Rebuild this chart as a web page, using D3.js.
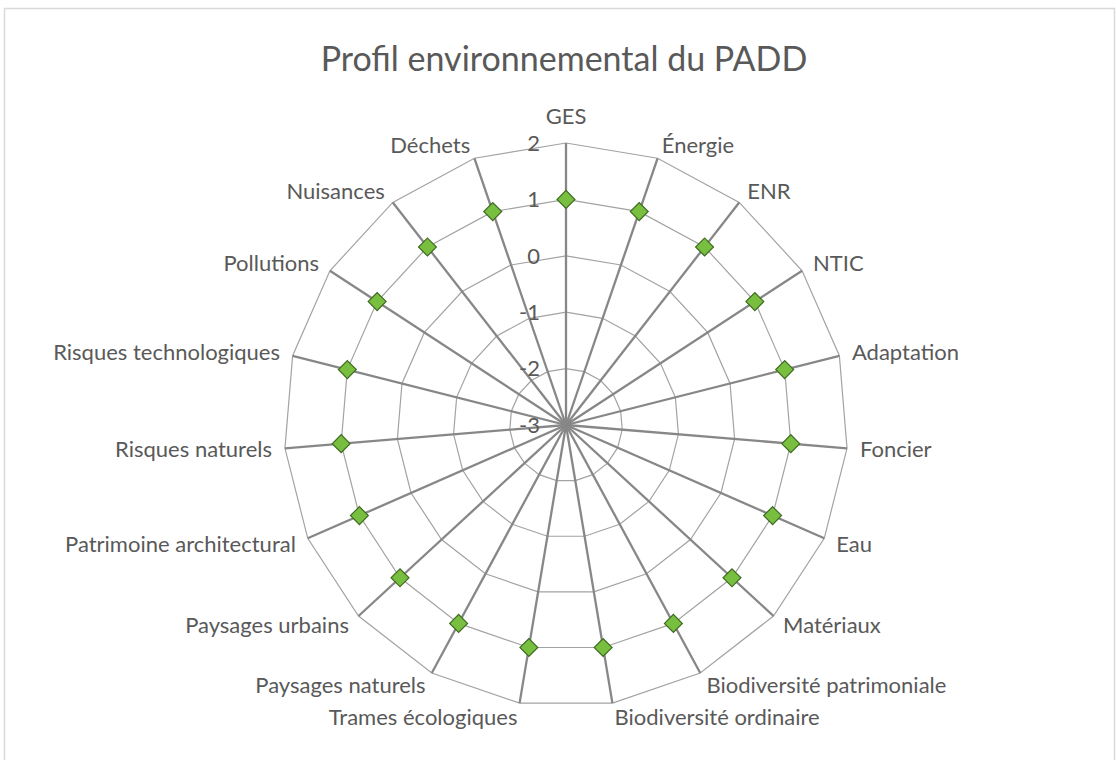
<!DOCTYPE html>
<html><head><meta charset="utf-8">
<script src="https://cdn.jsdelivr.net/npm/d3@7"></script>
<style>html,body{margin:0;padding:0;background:#fff;}</style>
</head><body>
<svg id="chart" width="1116" height="760"></svg>
<script>
const title = "Profil environnemental du PADD";
const categories = ["GES","Énergie","ENR","NTIC","Adaptation","Foncier","Eau","Matériaux",
  "Biodiversité patrimoniale","Biodiversité ordinaire","Trames écologiques","Paysages naturels",
  "Paysages urbains","Patrimoine architectural","Risques naturels","Risques technologiques",
  "Pollutions","Nuisances","Déchets"];
const values = [1,1,1,1,1,1,1,1,1,1,1,1,1,1,1,1,1,1,1];
const tickValues = [-3,-2,-1,0,1,2];

const svg = d3.select("#chart");
const cx = 566, cy = 425, R = 282;
const font = "Lato, 'Open Sans', sans-serif";
const textColor = "#595959";

svg.append("rect").attr("x",4.5).attr("y",8.5).attr("width",1110).attr("height",800)
  .attr("fill","#fff").attr("stroke","#d9d9d9").attr("stroke-width",1.5);

svg.append("text").attr("x",564).attr("y",71).attr("text-anchor","middle")
  .attr("font-family",font).attr("font-size",34).attr("fill",textColor).text(title);

const r = d3.scaleLinear().domain([-3,2]).range([0,R]);
const step = 2*Math.PI/categories.length;
const ang = c => categories.indexOf(c)*step;
const pt = (c, v) => [cx + r(v)*Math.sin(ang(c)), cy - r(v)*Math.cos(ang(c))];

const g = svg.append("g");
// rings
tickValues.filter(t => t > -3).forEach(t => {
  g.append("path")
    .attr("d", d3.line()(categories.map(c => pt(c,t))) + "Z")
    .attr("fill","none").attr("stroke","#a3a3a3").attr("stroke-width",1.2);
});
// spokes
categories.forEach(c => {
  const [x,y] = pt(c, 2);
  g.append("line").attr("x1",cx).attr("y1",cy).attr("x2",x).attr("y2",y)
    .attr("stroke","#878787").attr("stroke-width",2.3);
});
// tick labels
tickValues.forEach(t => {
  g.append("text").attr("x",540).attr("y",cy - r(t)).attr("dy","0.35em")
    .attr("text-anchor","end").attr("font-family",font).attr("font-size",22)
    .attr("fill",textColor).text(t);
});
// category labels
categories.forEach(c => {
  const a = ang(c);
  const [x,y] = pt(c, 2);
  const s = Math.sin(a), co = Math.cos(a);
  const anchor = Math.abs(s) < 0.01 ? "middle" : (s > 0 ? "start" : "end");
  const lx = x + 13*s;
  const ly = Math.abs(s) < 0.01 ? y - 27 : y - 14*co;
  g.append("text").attr("x",lx).attr("y",ly).attr("dy","0.35em")
    .attr("text-anchor",anchor).attr("font-family",font).attr("font-size",22)
    .attr("fill",textColor).text(c);
});
// markers (diamonds)
g.selectAll("path.m").data(categories).enter().append("path").attr("class","m")
  .attr("d", d3.symbol().type(d3.symbolSquare).size(160)())
  .attr("transform",(c,i) => { const [x,y] = pt(c, values[i]); return `translate(${x},${y}) rotate(45)`; })
  .attr("fill","#78bf3f").attr("stroke","#3f6b22").attr("stroke-width",1.2);
</script>
</body></html>
